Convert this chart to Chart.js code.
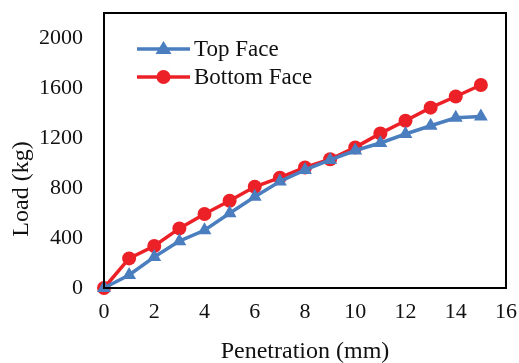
<!DOCTYPE html>
<html>
<head>
<meta charset="utf-8">
<script src="https://cdn.jsdelivr.net/npm/chart.js@4.4.1/dist/chart.umd.min.js"></script>
<style>
    html, body { margin: 0; padding: 0; background: #fff; }
    #wrap { width: 519px; height: 363px; }
</style>
</head>
<body>
<div id="wrap"><canvas id="loadChart" width="519" height="363"></canvas></div>
<script>
// Penetração (mm) e carga (kg) para cada face
const penetration = [0, 1, 2, 3, 4, 5, 6, 7, 8, 9, 10, 11, 12, 13, 14, 15];
const topFace = [0, 104, 248, 375, 462, 598, 730, 852, 945, 1025, 1100, 1160, 1232, 1298, 1362, 1372];
const bottomFace = [0, 237, 336, 477, 592, 698, 810, 883, 964, 1030, 1125, 1237, 1338, 1443, 1532, 1624];
const xTicks = [0, 2, 4, 6, 8, 10, 12, 14, 16];
const yTicks = [0, 400, 800, 1200, 1600, 2000];

const serif = "'Liberation Serif', 'Times New Roman', serif";

function toPoints(values) {
    return penetration.map((p, i) => ({ x: p, y: values[i] }));
}

// Sem espaço extra para os rótulos das pontas
function noEdgePadding(axis) {
    axis.paddingTop = 0;
    axis.paddingBottom = 0;
    axis.paddingLeft = 0;
    axis.paddingRight = 0;
}

// Moldura preta em volta da área do gráfico + título do eixo Y
const frame = {
    id: 'frame',
    afterDraw(chart) {
        const { ctx, chartArea: a } = chart;
        ctx.save();
        ctx.strokeStyle = '#000';
        ctx.lineWidth = 2;
        ctx.strokeRect(a.left, a.top, a.right - a.left, a.bottom - a.top);

        // título do eixo Y um pouco abaixo do centro
        ctx.translate(22, 189);
        ctx.rotate(-Math.PI / 2);
        ctx.fillStyle = '#111';
        ctx.font = '24px ' + serif;
        ctx.textAlign = 'center';
        ctx.textBaseline = 'middle';
        ctx.fillText('Load (kg)', 0, 0);
        ctx.restore();
    }
};

// Legenda dentro do gráfico: linha + marcador + texto
const insideLegend = {
    id: 'insideLegend',
    afterDatasetsDraw(chart) {
        const { ctx } = chart;
        ctx.save();
        ctx.font = '23px ' + serif;
        ctx.textBaseline = 'middle';
        chart.data.datasets.forEach((ds, i) => {
            const y = 49 + i * 28;
            const x0 = 137, x1 = 190;
            ctx.strokeStyle = ds.borderColor;
            ctx.lineWidth = 3.5;
            ctx.beginPath();
            ctx.moveTo(x0, y);
            ctx.lineTo(x1, y);
            ctx.stroke();
            ctx.fillStyle = ds.backgroundColor;
            ctx.beginPath();
            const cx = (x0 + x1) / 2;
            if (ds.pointStyle === 'triangle') {
                ctx.moveTo(cx, y - 8);
                ctx.lineTo(cx + 8, y + 5);
                ctx.lineTo(cx - 8, y + 5);
                ctx.closePath();
            } else {
                ctx.arc(cx, y, 7, 0, Math.PI * 2);
            }
            ctx.fill();
            ctx.fillStyle = '#111';
            ctx.fillText(ds.label, x1 + 4, y + 1);
        });
        ctx.restore();
    }
};

new Chart(document.getElementById('loadChart'), {
    type: 'line',
    data: {
        datasets: [
            {
                label: 'Top Face',
                data: toPoints(topFace),
                borderColor: '#4A7EBF',
                backgroundColor: '#4A7EBF',
                borderWidth: 3.5,
                pointStyle: 'triangle',
                pointRadius: 8,
                pointBorderWidth: 0,
                clip: false
            },
            {
                label: 'Bottom Face',
                data: toPoints(bottomFace),
                borderColor: '#EC2027',
                backgroundColor: '#EC2027',
                borderWidth: 3.5,
                pointStyle: 'circle',
                pointRadius: 7,
                pointBorderWidth: 0,
                clip: false
            }
        ]
    },
    options: {
        responsive: false,
        animation: false,
        layout: { padding: { top: 13, right: 13, left: 0, bottom: 0 } },
        plugins: {
            legend: { display: false },
            tooltip: { enabled: false }
        },
        scales: {
            x: {
                type: 'linear',
                min: 0,
                max: 16,
                afterBuildTicks: (axis) => { axis.ticks = xTicks.map(v => ({ value: v })); },
                afterFit: (axis) => { axis.height = 75; noEdgePadding(axis); },
                grid: { display: false, drawTicks: false },
                border: { display: false },
                ticks: {
                    color: '#111', padding: 11, maxRotation: 0,
                    font: { family: serif, size: 22 },
                    callback: (v) => String(v)
                },
                title: {
                    display: true,
                    text: 'Penetration (mm)',
                    color: '#111',
                    padding: { top: 0, bottom: -3 },
                    font: { family: serif, size: 24 }
                }
            },
            y: {
                min: 0,
                max: 2200,
                afterBuildTicks: (axis) => { axis.ticks = yTicks.map(v => ({ value: v })); },
                afterFit: (axis) => { axis.width = 104; noEdgePadding(axis); },
                grid: { display: false, drawTicks: false },
                border: { display: false },
                ticks: {
                    color: '#111', padding: 21,
                    font: { family: serif, size: 22 },
                    callback: (v) => String(v)
                }
            }
        }
    },
    plugins: [frame, insideLegend]
});
</script>
</body>
</html>
